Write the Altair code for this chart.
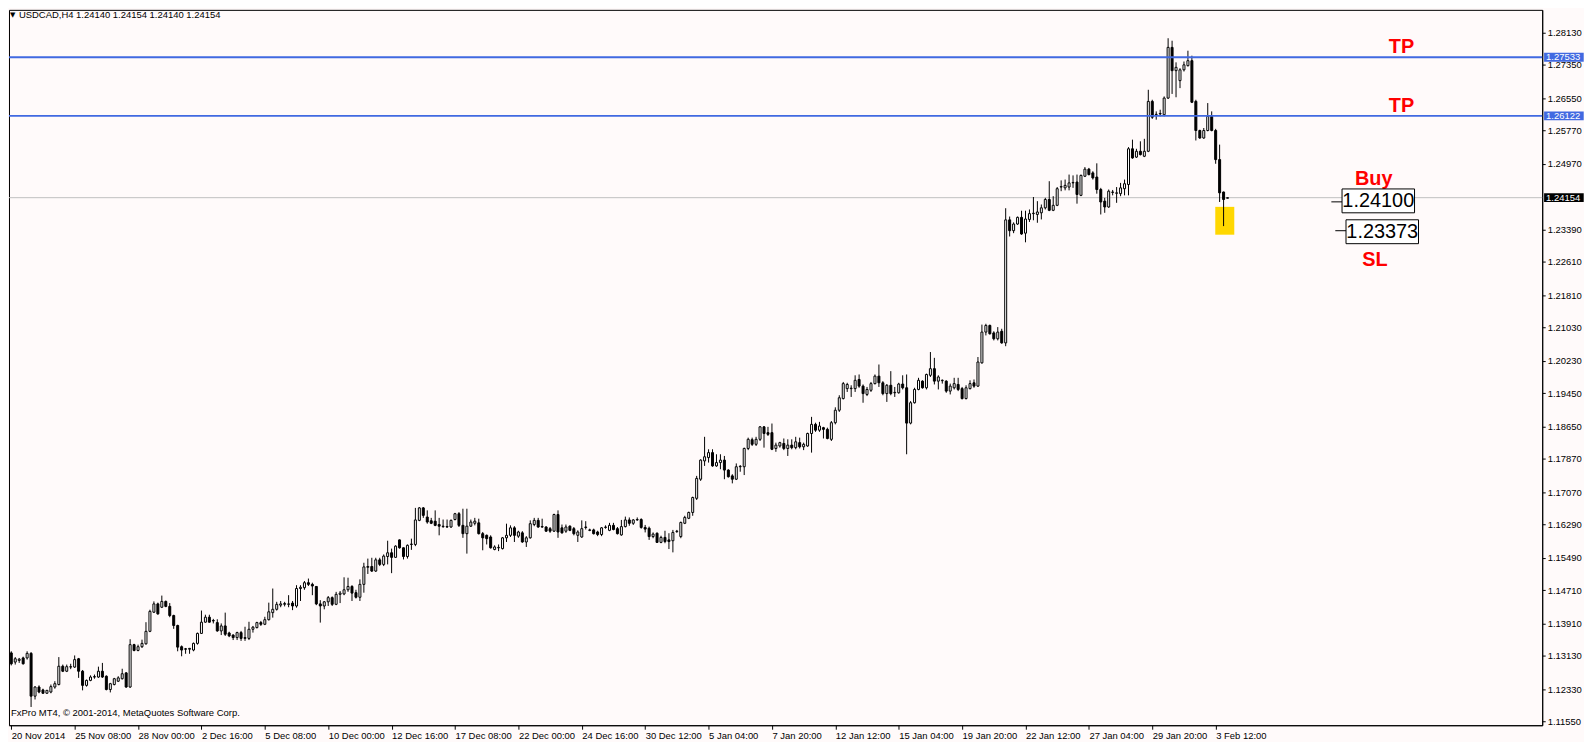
import altair as alt
import pandas as pd

# ---------------- data (USDCAD H4 candles) ----------------
OPEN = [
    1.1320, 1.1298, 1.1302, 1.1308, 1.1308, 1.1319, 1.1216, 1.1238, 1.1231, 1.1223,
    1.1226, 1.1238, 1.1244, 1.1288, 1.1276, 1.1286, 1.1286, 1.1306, 1.1276, 1.1242,
    1.1254, 1.1262, 1.1262, 1.1276, 1.1264, 1.1232, 1.1244, 1.1252, 1.1258, 1.1272,
    1.1238, 1.1340, 1.1326, 1.1335, 1.1342, 1.1372, 1.1418, 1.1438, 1.1430, 1.1444,
    1.1432, 1.1410, 1.1386, 1.1335, 1.1330, 1.1329, 1.1327, 1.1343, 1.1367, 1.1394,
    1.1406, 1.1398, 1.1393, 1.1373, 1.1385, 1.1368, 1.1363, 1.1357, 1.1369, 1.1355,
    1.1355, 1.1377, 1.1381, 1.1393, 1.1389, 1.1400, 1.1417, 1.1425, 1.1435, 1.1437,
    1.1437, 1.1440, 1.1433, 1.1475, 1.1477, 1.1489, 1.1485, 1.1480, 1.1438, 1.1433,
    1.1443, 1.1453, 1.1437, 1.1461, 1.1462, 1.1472, 1.1480, 1.1465, 1.1454, 1.1485,
    1.1526, 1.1528, 1.1517, 1.1544, 1.1533, 1.1552, 1.1561, 1.1550, 1.1592, 1.1573,
    1.1552, 1.1581, 1.1581, 1.1639, 1.1669, 1.1647, 1.1638, 1.1637, 1.1629, 1.1624,
    1.1624, 1.1623, 1.1641, 1.1655, 1.1627, 1.1607, 1.1625, 1.1632, 1.1633, 1.1607,
    1.1603, 1.1599, 1.1569, 1.1573, 1.1571, 1.1597, 1.1603, 1.1621, 1.1601, 1.1609,
    1.1587, 1.1597, 1.1629, 1.1639, 1.1624, 1.1623, 1.1619, 1.1613, 1.1653, 1.1621,
    1.1613, 1.1625, 1.1619, 1.1603, 1.1599, 1.1623, 1.1616, 1.1616, 1.1611, 1.1605,
    1.1622, 1.1615, 1.1627, 1.1619, 1.1604, 1.1624, 1.1640, 1.1632, 1.1640, 1.1641,
    1.1622, 1.1620, 1.1600, 1.1608, 1.1586, 1.1598, 1.1592, 1.1590, 1.1612, 1.1600,
    1.1632, 1.1644, 1.1658, 1.1692, 1.1738, 1.1782, 1.1790, 1.1802, 1.1770, 1.1778,
    1.1784, 1.1760, 1.1746, 1.1738, 1.1768, 1.1768, 1.1812, 1.1833, 1.1822, 1.1834,
    1.1864, 1.1850, 1.1850, 1.1812, 1.1818, 1.1824, 1.1812, 1.1820, 1.1814, 1.1826,
    1.1816, 1.1818, 1.1848, 1.1870, 1.1856, 1.1862, 1.1858, 1.1834, 1.1874, 1.1904,
    1.1932, 1.1956, 1.1956, 1.1956, 1.1978, 1.1962, 1.1942, 1.1952, 1.1968, 1.1986,
    1.1970, 1.1944, 1.1964, 1.1946, 1.1946, 1.1967, 1.1958, 1.1873, 1.1922, 1.1954,
    1.1974, 1.1958, 1.1988, 1.2004, 1.1974, 1.1975, 1.1974, 1.1950, 1.1958, 1.1966,
    1.1956, 1.1932, 1.1956, 1.1970, 1.1962, 1.2018, 1.2092, 1.2108, 1.2090, 1.2076,
    1.2094, 1.2066, 1.2362, 1.2336, 1.2352, 1.2368, 1.2330, 1.2363, 1.2377, 1.2375,
    1.2379, 1.2391, 1.2411, 1.2385, 1.2397, 1.2441, 1.2439, 1.2441, 1.2451, 1.2453,
    1.2421, 1.2467, 1.2484, 1.2475, 1.2465, 1.2435, 1.2407, 1.2393, 1.2428, 1.2426,
    1.2425, 1.2437, 1.2447, 1.2533, 1.2513, 1.2527, 1.2515, 1.2527, 1.2647, 1.2615,
    1.2617, 1.2615, 1.2655, 1.2777, 1.2721, 1.2697, 1.2723, 1.2733, 1.2745, 1.2647,
    1.2577, 1.2559, 1.2577, 1.2611, 1.2577, 1.2507, 1.2429, 1.24140,
]
HIGH = [
    1.1324, 1.1310, 1.1308, 1.1311, 1.1324, 1.1322, 1.1240, 1.1242, 1.1234, 1.1231,
    1.1244, 1.1252, 1.1310, 1.1292, 1.1292, 1.1294, 1.1314, 1.1308, 1.1279, 1.1256,
    1.1266, 1.1268, 1.1287, 1.1296, 1.1266, 1.1248, 1.1260, 1.1264, 1.1282, 1.1274,
    1.1353, 1.1342, 1.1340, 1.1352, 1.1394, 1.1424, 1.1444, 1.1441, 1.1458, 1.1446,
    1.1440, 1.1412, 1.1388, 1.1338, 1.1332, 1.1332, 1.1345, 1.1369, 1.1422, 1.1412,
    1.1412, 1.1402, 1.1401, 1.1391, 1.1417, 1.1371, 1.1365, 1.1371, 1.1373, 1.1383,
    1.1395, 1.1385, 1.1395, 1.1397, 1.1407, 1.1441, 1.1475, 1.1443, 1.1445, 1.1443,
    1.1459, 1.1445, 1.1483, 1.1483, 1.1493, 1.1499, 1.1489, 1.1481, 1.1447, 1.1445,
    1.1457, 1.1456, 1.1467, 1.1469, 1.1502, 1.1501, 1.1483, 1.1472, 1.1497, 1.1537,
    1.1547, 1.1549, 1.1549, 1.1549, 1.1557, 1.1590, 1.1571, 1.1579, 1.1593, 1.1574,
    1.1581, 1.1595, 1.1669, 1.1671, 1.1671, 1.1663, 1.1645, 1.1663, 1.1645, 1.1641,
    1.1641, 1.1641, 1.1657, 1.1659, 1.1667, 1.1667, 1.1641, 1.1645, 1.1643, 1.1611,
    1.1605, 1.1603, 1.1579, 1.1581, 1.1599, 1.1631, 1.1627, 1.1625, 1.1614, 1.1613,
    1.1601, 1.1639, 1.1645, 1.1645, 1.1643, 1.1625, 1.1623, 1.1655, 1.1663, 1.1629,
    1.1629, 1.1627, 1.1623, 1.1615, 1.1639, 1.1637, 1.1619, 1.1619, 1.1614, 1.1623,
    1.1627, 1.1633, 1.1633, 1.1623, 1.1640, 1.1648, 1.1646, 1.1642, 1.1646, 1.1644,
    1.1628, 1.1624, 1.1610, 1.1610, 1.1602, 1.1614, 1.1608, 1.1616, 1.1616, 1.1636,
    1.1650, 1.1660, 1.1696, 1.1746, 1.1786, 1.1840, 1.1810, 1.1810, 1.1798, 1.1798,
    1.1794, 1.1762, 1.1750, 1.1776, 1.1772, 1.1814, 1.1838, 1.1838, 1.1840, 1.1866,
    1.1866, 1.1864, 1.1872, 1.1826, 1.1828, 1.1836, 1.1834, 1.1834, 1.1840, 1.1838,
    1.1826, 1.1850, 1.1888, 1.1874, 1.1876, 1.1864, 1.1862, 1.1878, 1.1911, 1.1940,
    1.1972, 1.1970, 1.1964, 1.1988, 1.1990, 1.1966, 1.1960, 1.1972, 1.1990, 1.2014,
    1.1974, 1.1967, 1.1998, 1.1960, 1.1970, 1.1988, 1.1990, 1.1926, 1.1958, 1.1982,
    1.1976, 1.1992, 1.2044, 1.2030, 1.1988, 1.1978, 1.1976, 1.1968, 1.1982, 1.1982,
    1.1960, 1.1964, 1.1976, 1.1978, 1.2032, 1.2110, 1.2112, 1.2110, 1.2094, 1.2104,
    1.2100, 1.2390, 1.2370, 1.2356, 1.2370, 1.2384, 1.2384, 1.2387, 1.2417, 1.2407,
    1.2399, 1.2415, 1.2455, 1.2419, 1.2441, 1.2457, 1.2459, 1.2471, 1.2469, 1.2471,
    1.2471, 1.2489, 1.2487, 1.2479, 1.2498, 1.2439, 1.2415, 1.2435, 1.2434, 1.2441,
    1.2451, 1.2459, 1.2537, 1.2555, 1.2533, 1.2551, 1.2557, 1.2675, 1.2651, 1.2623,
    1.2627, 1.2659, 1.2799, 1.2793, 1.2741, 1.2727, 1.2743, 1.2769, 1.2757, 1.2651,
    1.2579, 1.2583, 1.2643, 1.2623, 1.2581, 1.2543, 1.2430, 1.24154,
]
LOW = [
    1.1290, 1.1292, 1.1296, 1.1292, 1.1304, 1.1190, 1.1208, 1.1223, 1.1222, 1.1222,
    1.1223, 1.1234, 1.1242, 1.1274, 1.1274, 1.1281, 1.1284, 1.1260, 1.1230, 1.1239,
    1.1252, 1.1258, 1.1260, 1.1260, 1.1230, 1.1225, 1.1242, 1.1250, 1.1256, 1.1236,
    1.1236, 1.1324, 1.1324, 1.1332, 1.1340, 1.1370, 1.1416, 1.1412, 1.1428, 1.1430,
    1.1406, 1.1378, 1.1324, 1.1312, 1.1318, 1.1318, 1.1324, 1.1340, 1.1366, 1.1393,
    1.1393, 1.1391, 1.1371, 1.1363, 1.1361, 1.1358, 1.1351, 1.1351, 1.1349, 1.1349,
    1.1351, 1.1369, 1.1379, 1.1385, 1.1387, 1.1398, 1.1405, 1.1422, 1.1430, 1.1432,
    1.1430, 1.1423, 1.1429, 1.1445, 1.1472, 1.1481, 1.1459, 1.1435, 1.1393, 1.1425,
    1.1433, 1.1433, 1.1435, 1.1440, 1.1459, 1.1467, 1.1445, 1.1451, 1.1445, 1.1465,
    1.1510, 1.1515, 1.1515, 1.1529, 1.1529, 1.1533, 1.1512, 1.1549, 1.1571, 1.1545,
    1.1547, 1.1568, 1.1577, 1.1637, 1.1645, 1.1631, 1.1630, 1.1625, 1.1603, 1.1621,
    1.1621, 1.1621, 1.1639, 1.1623, 1.1597, 1.1559, 1.1623, 1.1627, 1.1605, 1.1567,
    1.1581, 1.1571, 1.1567, 1.1565, 1.1569, 1.1587, 1.1599, 1.1587, 1.1597, 1.1585,
    1.1575, 1.1595, 1.1625, 1.1621, 1.1621, 1.1611, 1.1609, 1.1611, 1.1597, 1.1607,
    1.1609, 1.1613, 1.1603, 1.1587, 1.1597, 1.1617, 1.1613, 1.1605, 1.1601, 1.1601,
    1.1619, 1.1613, 1.1615, 1.1605, 1.1602, 1.1622, 1.1626, 1.1628, 1.1638, 1.1619,
    1.1610, 1.1592, 1.1596, 1.1585, 1.1584, 1.1584, 1.1570, 1.1562, 1.1609, 1.1596,
    1.1630, 1.1642, 1.1650, 1.1688, 1.1734, 1.1770, 1.1778, 1.1768, 1.1768, 1.1762,
    1.1738, 1.1742, 1.1728, 1.1736, 1.1756, 1.1748, 1.1808, 1.1818, 1.1818, 1.1830,
    1.1814, 1.1842, 1.1808, 1.1804, 1.1814, 1.1808, 1.1794, 1.1810, 1.1810, 1.1812,
    1.1808, 1.1816, 1.1802, 1.1852, 1.1852, 1.1836, 1.1834, 1.1830, 1.1870, 1.1900,
    1.1930, 1.1948, 1.1936, 1.1948, 1.1958, 1.1922, 1.1938, 1.1948, 1.1966, 1.1960,
    1.1940, 1.1924, 1.1940, 1.1936, 1.1944, 1.1954, 1.1798, 1.1870, 1.1920, 1.1952,
    1.1956, 1.1954, 1.1984, 1.1966, 1.1954, 1.1968, 1.1946, 1.1942, 1.1954, 1.1950,
    1.1930, 1.1930, 1.1954, 1.1958, 1.1960, 1.2016, 1.2084, 1.2086, 1.2072, 1.2072,
    1.2064, 1.2058, 1.2322, 1.2330, 1.2350, 1.2326, 1.2308, 1.2357, 1.2361, 1.2355,
    1.2363, 1.2387, 1.2383, 1.2383, 1.2395, 1.2431, 1.2433, 1.2433, 1.2439, 1.2401,
    1.2419, 1.2465, 1.2469, 1.2459, 1.2425, 1.2375, 1.2379, 1.2391, 1.2421, 1.2403,
    1.2419, 1.2421, 1.2421, 1.2509, 1.2511, 1.2517, 1.2513, 1.2525, 1.2605, 1.2603,
    1.2611, 1.2611, 1.2653, 1.2665, 1.2657, 1.2679, 1.2719, 1.2731, 1.2643, 1.2553,
    1.2557, 1.2557, 1.2575, 1.2575, 1.2497, 1.2405, 1.2347, 1.24140,
]
CLOSE = [
    1.1294, 1.1306, 1.1305, 1.1294, 1.1319, 1.1216, 1.1238, 1.1226, 1.1223, 1.1230,
    1.1239, 1.1246, 1.1288, 1.1276, 1.1287, 1.1287, 1.1304, 1.1276, 1.1242, 1.1254,
    1.1262, 1.1263, 1.1276, 1.1262, 1.1232, 1.1246, 1.1258, 1.1260, 1.1270, 1.1238,
    1.1340, 1.1326, 1.1335, 1.1343, 1.1372, 1.1420, 1.1438, 1.1414, 1.1444, 1.1432,
    1.1410, 1.1386, 1.1334, 1.1327, 1.1329, 1.1331, 1.1343, 1.1367, 1.1394, 1.1406,
    1.1394, 1.1397, 1.1373, 1.1385, 1.1365, 1.1361, 1.1357, 1.1369, 1.1355, 1.1357,
    1.1377, 1.1382, 1.1393, 1.1389, 1.1400, 1.1419, 1.1425, 1.1437, 1.1438, 1.1439,
    1.1438, 1.1433, 1.1475, 1.1478, 1.1489, 1.1485, 1.1481, 1.1438, 1.1433, 1.1443,
    1.1453, 1.1437, 1.1461, 1.1464, 1.1472, 1.1480, 1.1464, 1.1454, 1.1485, 1.1527,
    1.1528, 1.1517, 1.1544, 1.1533, 1.1553, 1.1561, 1.1550, 1.1577, 1.1573, 1.1552,
    1.1579, 1.1582, 1.1640, 1.1669, 1.1651, 1.1635, 1.1632, 1.1627, 1.1625, 1.1625,
    1.1623, 1.1639, 1.1655, 1.1627, 1.1607, 1.1625, 1.1635, 1.1637, 1.1607, 1.1597,
    1.1595, 1.1573, 1.1575, 1.1574, 1.1597, 1.1603, 1.1621, 1.1603, 1.1611, 1.1587,
    1.1597, 1.1631, 1.1639, 1.1623, 1.1623, 1.1613, 1.1613, 1.1653, 1.1611, 1.1609,
    1.1623, 1.1615, 1.1607, 1.1611, 1.1619, 1.1622, 1.1615, 1.1607, 1.1605, 1.1621,
    1.1623, 1.1627, 1.1617, 1.1607, 1.1624, 1.1640, 1.1632, 1.1640, 1.1641, 1.1622,
    1.1618, 1.1600, 1.1606, 1.1586, 1.1598, 1.1588, 1.1588, 1.1610, 1.1613, 1.1634,
    1.1646, 1.1658, 1.1694, 1.1740, 1.1784, 1.1792, 1.1802, 1.1770, 1.1778, 1.1784,
    1.1760, 1.1744, 1.1738, 1.1768, 1.1769, 1.1812, 1.1834, 1.1822, 1.1834, 1.1864,
    1.1848, 1.1846, 1.1810, 1.1820, 1.1826, 1.1812, 1.1820, 1.1814, 1.1828, 1.1816,
    1.1822, 1.1848, 1.1870, 1.1856, 1.1866, 1.1858, 1.1836, 1.1874, 1.1904, 1.1934,
    1.1968, 1.1966, 1.1957, 1.1976, 1.1962, 1.1944, 1.1954, 1.1968, 1.1986, 1.1970,
    1.1944, 1.1964, 1.1944, 1.1947, 1.1967, 1.1958, 1.1873, 1.1922, 1.1954, 1.1976,
    1.1958, 1.1990, 1.2004, 1.1974, 1.1984, 1.1976, 1.1950, 1.1962, 1.1968, 1.1954,
    1.1932, 1.1958, 1.1968, 1.1962, 1.2020, 1.2092, 1.2108, 1.2088, 1.2076, 1.2092,
    1.2066, 1.2362, 1.2336, 1.2352, 1.2368, 1.2328, 1.2364, 1.2377, 1.2378, 1.2381,
    1.2391, 1.2411, 1.2385, 1.2397, 1.2437, 1.2442, 1.2445, 1.2451, 1.2452, 1.2423,
    1.2469, 1.2484, 1.2471, 1.2463, 1.2435, 1.2405, 1.2393, 1.2431, 1.2429, 1.2427,
    1.2439, 1.2449, 1.2533, 1.2511, 1.2527, 1.2519, 1.2527, 1.2647, 1.2609, 1.2616,
    1.2618, 1.2655, 1.2777, 1.2721, 1.2729, 1.2723, 1.2735, 1.2745, 1.2645, 1.2577,
    1.2559, 1.2577, 1.2611, 1.2577, 1.2507, 1.2427, 1.2411, 1.24154,
]

X_TICK_BARS = [0, 16, 32, 48, 64, 80, 96, 112, 128, 144, 160, 176, 192, 208,
               224, 240, 256, 272, 288, 304]
X_TICK_LABELS = ["20 Nov 2014", "25 Nov 08:00", "28 Nov 00:00", "2 Dec 16:00",
                 "5 Dec 08:00", "10 Dec 00:00", "12 Dec 16:00", "17 Dec 08:00",
                 "22 Dec 00:00", "24 Dec 16:00", "30 Dec 12:00", "5 Jan 04:00",
                 "7 Jan 20:00", "12 Jan 12:00", "15 Jan 04:00", "19 Jan 20:00",
                 "22 Jan 12:00", "27 Jan 04:00", "29 Jan 20:00", "3 Feb 12:00"]
Y_TICKS = [1.28130, 1.27350, 1.26550, 1.25770, 1.24970, 1.23390, 1.22610,
           1.21810, 1.21030, 1.20230, 1.19450, 1.18650, 1.17870, 1.17070,
           1.16290, 1.15490, 1.14710, 1.13910, 1.13130, 1.12330, 1.11550]

HEADER = "USDCAD,H4  1.24140 1.24154 1.24140 1.24154"
COPYRIGHT = "FxPro MT4, \u00a9 2001-2014, MetaQuotes Software Corp."

TP_LEVELS = [1.27533, 1.26122]
BID_PRICE = 1.24154
AXIS_TAG_PRICES = [1.27533, 1.26122, 1.24154]
AXIS_TAG_TEXT = ["1.27533", "1.26122", "1.24154"]
AXIS_TAG_COLORS = ["#4169E1", "#4169E1", "#000000"]

NOTE_TEXT = ["TP", "TP", "Buy", "SL"]
NOTE_BAR = [350.9, 350.9, 343.9, 344.2]
NOTE_PRICE = [1.27776, 1.26363, 1.24592, 1.22653]

BOX_TEXT = ["1.24100", "1.23373"]
BOX_BAR0 = [335.9, 336.9]
BOX_BAR1 = [354.2, 355.2]
BOX_TOP = [1.24364, 1.23622]
BOX_BOTTOM = [1.23790, 1.23047]
BOX_MID = [1.24077, 1.23335]
LEAD_BAR0 = [333.2, 334.2]
LEAD_PRICE = [1.24053, 1.23359]

ZONE_BAR = [303.9, 308.7]
ZONE_PRICE = [1.23263, 1.23933]

# ---------------- layout ----------------
W, H = 1541, 719
X_DOMAIN = [-0.575, 386.425]
Y_DOMAIN = [1.11461, 1.28673]
TAG_BAR = [386.9, 396.9]
TAG_HALF = 0.00106
FONT = "Liberation Sans"
BG = "#FFFAFA"

xs = alt.Scale(domain=X_DOMAIN, nice=False, zero=False, padding=0)
ys = alt.Scale(domain=Y_DOMAIN, nice=False, zero=False, padding=0)

label_js = "[" + ",".join("'%s'" % s for s in X_TICK_LABELS) + "]"
X_AXIS = alt.Axis(values=X_TICK_BARS, labelExpr=label_js + "[round(datum.value/16)]",
                  title=None, grid=False, tickSize=4, labelAlign="left",
                  labelPadding=1, labelBaseline="top", labelFlush=False,
                  labelOverlap=False, labelBound=False, domainColor="black",
                  tickColor="black", labelColor="black", labelFont=FONT,
                  labelFontSize=9.5)
Y_AXIS = alt.Axis(orient="right", values=Y_TICKS, format=".5f", title=None,
                  grid=False, tickSize=3, labelPadding=2, labelOverlap=False,
                  labelFlush=False, labelBound=False, domainColor="black",
                  tickColor="black", labelColor="black", labelFont=FONT,
                  labelFontSize=9.5)


def X(field):
    return alt.X(field, scale=xs, axis=X_AXIS)


def Y(field):
    return alt.Y(field, scale=ys, axis=Y_AXIS)


df = pd.DataFrame({"i": list(range(len(OPEN))), "open": OPEN, "high": HIGH,
                   "low": LOW, "close": CLOSE})
base = alt.Chart(df)

zone_df = pd.DataFrame({"b0": [ZONE_BAR[0]], "b1": [ZONE_BAR[1]],
                        "p0": [ZONE_PRICE[0]], "p1": [ZONE_PRICE[1]]})
zone = alt.Chart(zone_df).mark_rect(color="#FFD700").encode(
    x=X("b0:Q"), x2="b1", y=Y("p0:Q"), y2="p1")

bid_line = alt.Chart(pd.DataFrame({"p": [BID_PRICE]})).mark_rule(
    color="#C0C0C0", strokeWidth=1).encode(y=Y("p:Q"))

wicks = base.mark_rule(color="black", strokeWidth=1).encode(
    x=X("i:Q"), y=Y("low:Q"), y2="high")

bodies = base.mark_bar(width=2, stroke="black", strokeWidth=1).encode(
    x=X("i:Q"), y=Y("open:Q"), y2="close",
    fill=alt.condition("datum.close >= datum.open", alt.value("white"),
                       alt.value("black")))

tp_lines = alt.Chart(pd.DataFrame({"p": TP_LEVELS})).mark_rule(
    color="#4169E1", strokeWidth=2).encode(y=Y("p:Q"))

tags_df = pd.DataFrame({"p": AXIS_TAG_PRICES, "t": AXIS_TAG_TEXT, "c": AXIS_TAG_COLORS})
tags_df["lo"] = tags_df["p"] - TAG_HALF
tags_df["hi"] = tags_df["p"] + TAG_HALF
tags_df["b0"] = TAG_BAR[0]
tags_df["b1"] = TAG_BAR[1]
tag_rects = alt.Chart(tags_df).mark_rect().encode(
    x=X("b0:Q"), x2="b1", y=Y("lo:Q"), y2="hi",
    color=alt.Color("c:N", scale=None))
tag_text = alt.Chart(tags_df).mark_text(align="left", baseline="middle", dx=2,
                                        color="white", font=FONT, fontSize=9.5).encode(
    x=X("b0:Q"), y=Y("p:Q"), text="t:N")

notes = alt.Chart(pd.DataFrame({"t": NOTE_TEXT, "b": NOTE_BAR, "p": NOTE_PRICE})).mark_text(
    color="#FF0000", font=FONT, fontSize=20, fontWeight="bold", align="center",
    baseline="middle").encode(x=X("b:Q"), y=Y("p:Q"), text="t:N")

box_df = pd.DataFrame({"t": BOX_TEXT, "b0": BOX_BAR0, "b1": BOX_BAR1, "top": BOX_TOP,
                       "bot": BOX_BOTTOM, "mid": BOX_MID, "lb": LEAD_BAR0,
                       "lp": LEAD_PRICE})
box_df["bm"] = (box_df["b0"] + box_df["b1"]) / 2
box_rects = alt.Chart(box_df).mark_rect(fill="white", stroke="black", strokeWidth=1).encode(
    x=X("b0:Q"), x2="b1", y=Y("bot:Q"), y2="top")
box_text = alt.Chart(box_df).mark_text(
    font=FONT, fontSize=20, color="black", align="center", baseline="middle").encode(
    x=X("bm:Q"), y=Y("mid:Q"), text="t:N")
leaders = alt.Chart(box_df).mark_rule(color="black", strokeWidth=1).encode(
    x=X("lb:Q"), x2="b0", y=Y("lp:Q"))

header_tri = alt.Chart(pd.DataFrame({"t": ["\u25bc"]})).mark_text(
    align="left", baseline="middle", font="DejaVu Sans", fontSize=7, color="black").encode(
    x=alt.value(1), y=alt.value(5), text="t:N")
header = alt.Chart(pd.DataFrame({"t": [HEADER]})).mark_text(
    align="left", baseline="middle", font=FONT, fontSize=9.5, color="black").encode(
    x=alt.value(10), y=alt.value(5), text="t:N")
copyright_t = alt.Chart(pd.DataFrame({"t": [COPYRIGHT]})).mark_text(
    align="left", baseline="middle", font=FONT, fontSize=9.5, color="black").encode(
    x=alt.value(2), y=alt.value(707), text="t:N")

chart = alt.layer(
    zone, bid_line, wicks, bodies, tp_lines, tag_rects, tag_text, notes,
    leaders, box_rects, box_text, header_tri, header, copyright_t
).properties(
    width=W, height=H,
    padding={"left": 0, "top": 0, "right": 0, "bottom": 0},
    background=BG,
).configure_view(
    stroke="black", strokeWidth=1, fill=BG
)

chart.save("out.html", embed_options={"renderer": "svg", "actions": False})
